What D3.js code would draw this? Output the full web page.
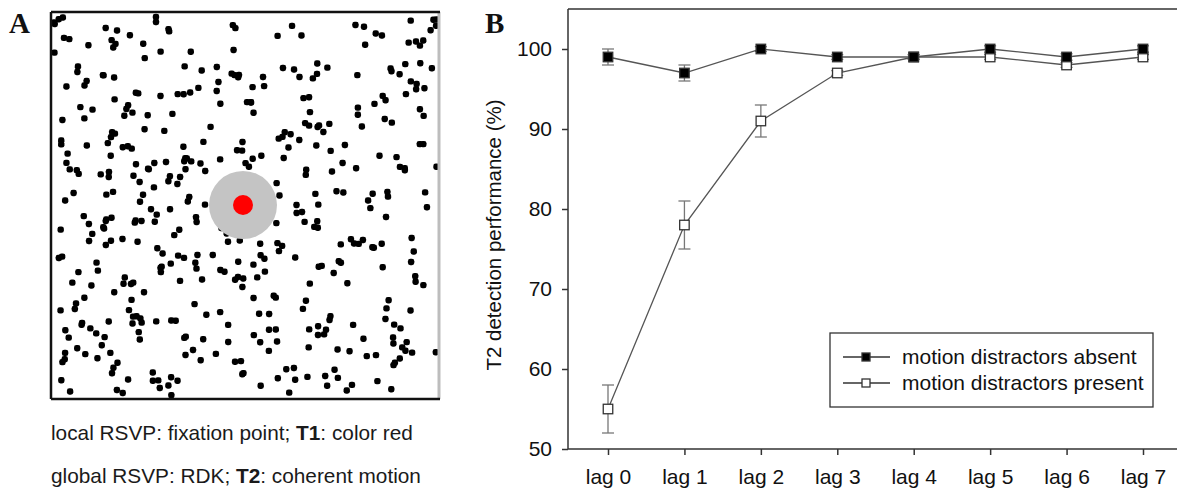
<!DOCTYPE html>
<html>
<head>
<meta charset="utf-8">
<script src="https://cdn.jsdelivr.net/npm/d3@7"></script>
<style>
  html, body { margin: 0; padding: 0; background: #fff; }
  svg { display: block; }
</style>
</head>
<body>
<svg id="chart" width="1177" height="491"></svg>
<script>
// ---------------- data ----------------
const lags = ["lag 0", "lag 1", "lag 2", "lag 3", "lag 4", "lag 5", "lag 6", "lag 7"];
const absentMean  = [99, 97, 100, 99, 99, 100, 99, 100];
const absentErr   = [1, 1, 0.3, 0.3, 0.3, 0.4, 0.4, 0.4];
const presentMean = [55, 78, 91, 97, 99, 99, 98, 99];
const presentErr  = [3, 3, 2, 0.3, 0.3, 0.3, 0.3, 0.3];
const yTicks = [50, 60, 70, 80, 90, 100];
const seriesNames = ["motion distractors absent", "motion distractors present"];
const captionLines = [
  [["local RSVP: fixation point; ", false], ["T1", true], [": color red", false]],
  [["global RSVP: RDK; ", false], ["T2", true], [": coherent motion", false]]
];

const svg = d3.select("#chart");
const sans = "'Liberation Sans', Arial, sans-serif";
const serif = "'Liberation Serif', 'Times New Roman', serif";

// ---------------- Panel A (stimulus illustration) ----------------
const A = { x0: 51, x1: 440, y0: 12, y1: 399 };
svg.append("text").attr("x", 9).attr("y", 33)
  .attr("font-family", serif).attr("font-weight", "bold").attr("font-size", 29)
  .attr("fill", "#111").text("A");

const gA = svg.append("g");
gA.append("rect").attr("x", A.x0).attr("y", A.y0)
  .attr("width", A.x1 - A.x0).attr("height", A.y1 - A.y0).attr("fill", "#fff");

// decorative random-dot texture (seeded, deterministic) – not chart data
const rnd = d3.randomLcg(0.4271);
const dots = [];
for (let i = 0; i < 450; i++) {
  dots.push([A.x0 + 3 + rnd() * (A.x1 - A.x0 - 6), A.y0 + 3 + rnd() * (A.y1 - A.y0 - 6)]);
}
const dx = d3.scaleLinear().domain([0, 1]).range([0, 1]);
gA.selectAll("rect.dot").data(dots).join("rect").attr("class", "dot")
  .attr("x", d => dx(d[0]) - 3.2).attr("y", d => dx(d[1]) - 3.2)
  .attr("width", 6.4).attr("height", 6.4).attr("rx", 2.4).attr("fill", "#000");

gA.append("circle").attr("cx", 243).attr("cy", 205).attr("r", 34).attr("fill", "#c4c4c4");
gA.append("circle").attr("cx", 243).attr("cy", 205).attr("r", 10).attr("fill", "#ff0000");

// frame
gA.append("line").attr("x1", A.x1 - 1).attr("x2", A.x1 - 1).attr("y1", A.y0).attr("y2", A.y1)
  .attr("stroke", "#bdbdbd").attr("stroke-width", 3);
gA.append("line").attr("x1", A.x0).attr("x2", A.x1).attr("y1", A.y0).attr("y2", A.y0)
  .attr("stroke", "#111").attr("stroke-width", 2.5);
gA.append("line").attr("x1", A.x0).attr("x2", A.x1).attr("y1", A.y1).attr("y2", A.y1)
  .attr("stroke", "#111").attr("stroke-width", 2.5);
gA.append("line").attr("x1", A.x0).attr("x2", A.x0).attr("y1", A.y0).attr("y2", A.y1)
  .attr("stroke", "#111").attr("stroke-width", 2.5);

const capY = [440, 483];
captionLines.forEach((parts, i) => {
  const t = svg.append("text").attr("x", 51).attr("y", capY[i])
    .attr("font-family", sans).attr("font-size", 20.8).attr("fill", "#1a1a1a");
  parts.forEach(p => t.append("tspan").attr("font-weight", p[1] ? "bold" : "normal").text(p[0]));
});

// ---------------- Panel B (line chart) ----------------
svg.append("text").attr("x", 485).attr("y", 33)
  .attr("font-family", serif).attr("font-weight", "bold").attr("font-size", 29)
  .attr("fill", "#111").text("B");

const plot = { left: 568, right: 1177, top: 9, bottom: 449 };
const x = d3.scalePoint().domain(lags).range([608, 1143]);
const y = d3.scaleLinear().domain([50, 105]).range([plot.bottom, plot.top]);

const gB = svg.append("g");

// frame top line
gB.append("line").attr("x1", plot.left).attr("x2", plot.right)
  .attr("y1", plot.top).attr("y2", plot.top).attr("stroke", "#666").attr("stroke-width", 2);

// y axis
const yAxis = gB.append("g").attr("transform", `translate(${plot.left},0)`)
  .call(d3.axisLeft(y).tickValues(yTicks).tickSize(6).tickPadding(10).tickSizeOuter(0));
yAxis.select(".domain").attr("d", `M0,${plot.top}V${plot.bottom}`).attr("stroke", "#333").attr("stroke-width", 1.5);
yAxis.selectAll(".tick line").attr("stroke", "#333").attr("stroke-width", 1.5);
yAxis.selectAll(".tick text").attr("font-family", sans).attr("font-size", 21).attr("fill", "#111");

// x axis
const xAxis = gB.append("g").attr("transform", `translate(0,${plot.bottom})`)
  .call(d3.axisBottom(x).tickSize(6).tickPadding(14).tickSizeOuter(0));
xAxis.select(".domain").attr("d", `M${plot.left},0H${plot.right}`).attr("stroke", "#333").attr("stroke-width", 1.5);
xAxis.selectAll(".tick line").attr("stroke", "#333").attr("stroke-width", 1.5);
xAxis.selectAll(".tick text").attr("font-family", sans).attr("font-size", 21).attr("fill", "#111");

// y label
gB.append("text").attr("transform", `translate(501,${(y(50) + y(105)) / 2 + 6}) rotate(-90)`)
  .attr("text-anchor", "middle").attr("font-family", sans).attr("font-size", 20.5)
  .attr("fill", "#111").text("T2 detection performance (%)");

const series = [
  { mean: absentMean, err: absentErr, fill: "#000" },
  { mean: presentMean, err: presentErr, fill: "#fff" }
];
const line = d3.line().x((d, i) => x(lags[i])).y(d => y(d));
const ms = 9.5;

[series[1], series[0]].forEach(s => {
  const g = gB.append("g");
  s.mean.forEach((m, i) => {
    const cx = x(lags[i]);
    const lo = y(m - s.err[i]), hi = y(m + s.err[i]);
    g.append("line").attr("x1", cx).attr("x2", cx).attr("y1", lo).attr("y2", hi)
      .attr("stroke", "#777").attr("stroke-width", 1.3);
    [lo, hi].forEach(yy => g.append("line").attr("x1", cx - 6).attr("x2", cx + 6)
      .attr("y1", yy).attr("y2", yy).attr("stroke", "#777").attr("stroke-width", 1.3));
  });
  g.append("path").attr("d", line(s.mean)).attr("fill", "none")
    .attr("stroke", "#555").attr("stroke-width", 1.3);
  g.selectAll("rect.m").data(s.mean).join("rect").attr("class", "m")
    .attr("x", (d, i) => x(lags[i]) - ms / 2).attr("y", d => y(d) - ms / 2)
    .attr("width", ms).attr("height", ms)
    .attr("fill", s.fill).attr("stroke", "#333").attr("stroke-width", 1.3);
});

// legend
const lg = gB.append("g");
lg.append("rect").attr("x", 830).attr("y", 333).attr("width", 323).attr("height", 74)
  .attr("fill", "#fff").attr("stroke", "#333").attr("stroke-width", 1.3);
const legY = [357, 383];
series.forEach((s, i) => {
  lg.append("line").attr("x1", 843).attr("x2", 890).attr("y1", legY[i]).attr("y2", legY[i])
    .attr("stroke", "#333").attr("stroke-width", 1.3);
  lg.append("rect").attr("x", 866 - 4).attr("y", legY[i] - 4).attr("width", 8).attr("height", 8)
    .attr("fill", s.fill).attr("stroke", "#333").attr("stroke-width", 1.3);
  lg.append("text").attr("x", 902).attr("y", legY[i] + 7)
    .attr("font-family", sans).attr("font-size", 21).attr("fill", "#111").text(seriesNames[i]);
});
</script>
</body>
</html>
